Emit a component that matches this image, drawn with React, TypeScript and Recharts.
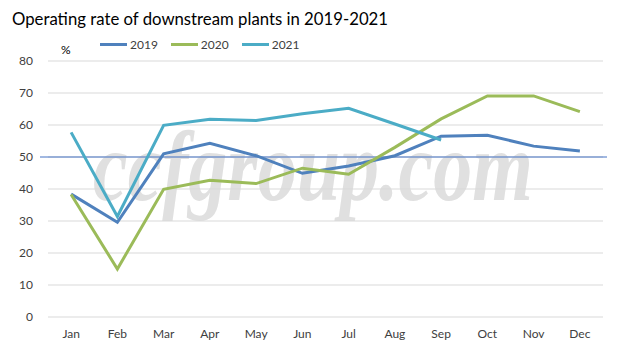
import { LineChart, Line, XAxis, YAxis, CartesianGrid, Legend, ReferenceLine } from "recharts";

const months = ["Jan", "Feb", "Mar", "Apr", "May", "Jun", "Jul", "Aug", "Sep", "Oct", "Nov", "Dec"];
const rate2019 = [38.4, 29.6, 51.0, 54.3, 50.4, 44.9, 47.2, 50.4, 56.5, 56.8, 53.4, 51.9];
const rate2020 = [38.3, 15.0, 39.9, 42.7, 41.7, 46.5, 44.6, 53.0, 61.9, 69.1, 69.1, 64.2];
const rate2021 = [57.7, 31.4, 59.9, 61.8, 61.4, 63.5, 65.2, 60.3, 55.3, null, null, null];
const yTicks = [0, 10, 20, 30, 40, 50, 60, 70, 80];

const data = months.map((m, i) => ({
  month: m,
  "2019": rate2019[i],
  "2020": rate2020[i],
  "2021": rate2021[i],
}));

const font = "Lato, 'Open Sans', sans-serif";

const renderLegend = (props: any) => (
  <div style={{ display: "flex", fontFamily: font, fontSize: 12, color: "#404040" }}>
    {props.payload.map((p: any) => (
      <div key={p.value} style={{ display: "flex", alignItems: "center", marginRight: 13 }}>
        <span style={{ width: 27, height: 3, background: p.color, marginRight: 3 }} />
        <span>{p.value}</span>
      </div>
    ))}
  </div>
);

export default function App() {
  return (
    <div style={{ position: "absolute", left: 0, top: 0, width: 621, height: 352, background: "#fff" }}>
      <svg width={621} height={352} style={{ position: "absolute", left: 0, top: 0 }}>
        <text x={12} y={25} fontFamily={font} fontSize={18} fill="#000" textLength={376} lengthAdjust="spacingAndGlyphs">
          Operating rate of downstream plants in 2019-2021
        </text>
        <text x={61} y={54} fontFamily={font} fontSize={12} fill="#000">%</text>
        <text
          x={93}
          y={200}
          fontFamily="'Liberation Serif', serif"
          fontStyle="italic"
          fontWeight="bold"
          fontSize={100}
          fill="#e0e0e0"
          textLength={440}
          lengthAdjust="spacingAndGlyphs"
        >
          ccfgroup.com
        </text>
      </svg>
      <div style={{ position: "absolute", left: 0, top: 0 }}>
        <LineChart width={621} height={352} data={data} margin={{ top: 61, right: 18, bottom: 10, left: 0 }}>
          <CartesianGrid vertical={false} stroke="#d9d9d9" />
          <XAxis
            dataKey="month"
            scale="band"
            axisLine={false}
            tickLine={false}
            tickSize={0}
            tickMargin={12}
            height={25}
            tick={{ fontFamily: font, fontSize: 12, fill: "#404040" }}
          />
          <YAxis
            domain={[0, 80]}
            ticks={yTicks}
            axisLine={false}
            tickLine={false}
            tickSize={0}
            tickMargin={15}
            width={48}
            tick={{ fontFamily: font, fontSize: 12, fill: "#404040" }}
          />
          <Legend
            layout="horizontal"
            verticalAlign="middle"
            align="center"
            content={renderLegend}
            wrapperStyle={{ top: 37, left: 100, width: "auto" }}
          />
          <ReferenceLine
            y={50}
            shape={(p: any) => (
              <line x1={p.x1 - 8} y1={p.y1} x2={p.x2 + 4} y2={p.y2} stroke="#4472c4" strokeWidth={1} />
            )}
          />
          <Line dataKey="2019" stroke="#4f81bd" strokeWidth={3} dot={false} isAnimationActive={false} />
          <Line dataKey="2020" stroke="#9bbb59" strokeWidth={3} dot={false} isAnimationActive={false} />
          <Line dataKey="2021" stroke="#4bacc6" strokeWidth={3} dot={false} isAnimationActive={false} />
        </LineChart>
      </div>
    </div>
  );
}
